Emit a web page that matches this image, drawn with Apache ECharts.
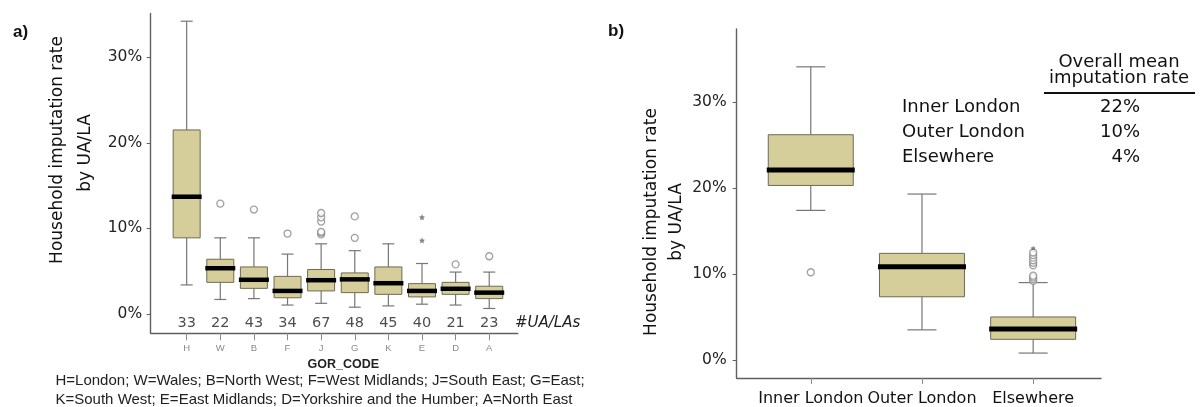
<!DOCTYPE html>
<html>
<head>
<meta charset="utf-8">
<script src="https://cdn.jsdelivr.net/npm/echarts@6/dist/echarts.min.js"></script>
<style>
  html, body { margin: 0; padding: 0; background: #fff; }
  #chart { width: 1200px; height: 407px; }
</style>
</head>
<body>
<div id="chart"></div>
<script>
// panel a: imputation rate by region (GOR_CODE)
const gorCodes = ['H', 'W', 'B', 'F', 'J', 'G', 'K', 'E', 'D', 'A']
const gorCounts = [33, 22, 43, 34, 67, 48, 45, 40, 21, 23]
// [lower whisker, Q1, median, Q3, upper whisker] in %
const gorBoxes = [
  [3.4, 8.9, 13.7, 21.5, 34.2],
  [1.7, 3.7, 5.35, 6.4, 8.9],
  [1.8, 3.0, 4.0, 5.5, 8.9],
  [1.05, 1.9, 2.7, 4.4, 7.0],
  [1.25, 2.7, 3.95, 5.2, 8.2],
  [0.8, 2.5, 4.05, 4.8, 7.4],
  [0.95, 2.3, 3.6, 5.5, 8.2],
  [1.15, 2.0, 2.7, 3.55, 5.9],
  [1.05, 2.3, 2.95, 3.7, 4.9],
  [0.65, 1.8, 2.5, 3.25, 4.9]
]
const gorOutliers = [[], [12.9], [12.2], [9.4], [9.3, 9.5, 9.6, 10.8, 11.3, 11.8], [8.9, 11.4], [], [], [5.8], [6.75]]
const gorExtremes = [[], [], [], [], [], [], [], [8.6, 11.3], [], []]

// panel b: London split
const areaNames = ['Inner London', 'Outer London', 'Elsewhere']
const areaBoxes = [
  [17.4, 20.3, 22.1, 26.2, 34.1],
  [3.5, 7.35, 10.85, 12.4, 19.3],
  [0.8, 2.4, 3.6, 5.0, 9.0]
]
const areaOutliers = [[10.2], [], [9.2, 9.4, 9.6, 9.8, 11.0, 11.3, 11.6, 11.9, 12.2, 12.5]]
const areaExtremes = [[], [], [13.0]]
const areaMeans = [22, 10, 4]

const yTicks = [0, 10, 20, 30]

const COMIC = "'Comic Sans MS', 'DejaVu Sans', sans-serif"
const ARIAL = "'Liberation Sans', Arial, sans-serif"
const BOX_FILL = '#d5ce9a'
const BOX_EDGE = '#6e6a55'
const WHISKER = '#777'
const AXIS = '#606060'
const STAR = 'path://M0,-10L2.9,-4L9.5,-3.1L4.8,1.5L5.9,8.1L0,5L-5.9,8.1L-4.8,1.5L-9.5,-3.1L-2.9,-4Z'

function boxRenderer(boxW, capW, medW) {
  return function (params, api) {
    const x = api.value(0)
    const p = [1, 2, 3, 4, 5].map((d) => api.coord([x, api.value(d)]))
    const cx = p[0][0]
    const seg = (x1, y1, x2, y2, style) => ({ type: 'line', shape: { x1, y1, x2, y2 }, style })
    const w = { stroke: WHISKER, lineWidth: 1.2 }
    return {
      type: 'group',
      children: [
        seg(cx, p[0][1], cx, p[1][1], w),
        seg(cx, p[3][1], cx, p[4][1], w),
        seg(cx - capW / 2, p[0][1], cx + capW / 2, p[0][1], w),
        seg(cx - capW / 2, p[4][1], cx + capW / 2, p[4][1], w),
        {
          type: 'rect',
          shape: { x: cx - boxW / 2, y: p[3][1], width: boxW, height: p[1][1] - p[3][1] },
          style: { fill: BOX_FILL, stroke: BOX_EDGE, lineWidth: 1 },
        },
        seg(cx - boxW / 2 - 1.5, p[2][1], cx + boxW / 2 + 1.5, p[2][1], { stroke: '#000', lineWidth: medW }),
      ],
    }
  }
}

function points(list) {
  let out = []
  list.forEach((vals, i) => vals.forEach((v) => out.push([i, v])))
  return out
}

function valueXAxis(gridIndex, min, max, names, label) {
  const idx = names.map((n, i) => i)
  return {
    gridIndex: gridIndex,
    type: 'value',
    min: min,
    max: max,
    splitLine: { show: false },
    axisLine: { show: true, onZero: false, lineStyle: { color: AXIS, width: 1.4 } },
    axisTick: { show: true, customValues: idx, length: label.tickLen, lineStyle: { color: '#8a8a8a' } },
    axisLabel: Object.assign({ customValues: idx, formatter: (v) => names[v] }, label.style),
  }
}

function percentYAxis(gridIndex, min, max, margin) {
  return {
    gridIndex: gridIndex,
    type: 'value',
    min: min,
    max: max,
    splitLine: { show: false },
    axisLine: { show: true, onZero: false, lineStyle: { color: AXIS, width: 1.4 } },
    axisTick: { show: true, customValues: yTicks, length: 4, lineStyle: { color: AXIS } },
    axisLabel: { customValues: yTicks, formatter: (v) => v + '%', fontFamily: COMIC, fontSize: 15.5, color: '#222', margin: margin },
  }
}

const myChart = echarts.init(document.getElementById('chart'))

const tableRows = []
areaNames.forEach((name, i) => {
  tableRows.push({ type: 'text', x: 902, y: 107 + i * 25, style: { text: name, font: '18px ' + COMIC, fill: '#111', textVerticalAlign: 'middle' } })
  tableRows.push({ type: 'text', x: 1140, y: 107 + i * 25, style: { text: areaMeans[i] + '%', font: '18px ' + COMIC, fill: '#111', textAlign: 'right', textVerticalAlign: 'middle' } })
})

myChart.setOption({
  animation: false,
  grid: [
    { left: 150.7, right: 682.2, top: 13.5, bottom: 73.7 },
    { left: 736.7, right: 99, top: 29, bottom: 28.7 },
  ],
  xAxis: [
    Object.assign(valueXAxis(0, -1.07, 9.85, gorCodes, {
      tickLen: 7,
      style: { fontFamily: ARIAL, fontSize: 9.5, color: '#8a8a8a', margin: 10 },
    }), {
      name: 'GOR_CODE',
      nameLocation: 'middle',
      nameGap: 25,
      nameTextStyle: { fontFamily: ARIAL, fontWeight: 'bold', fontSize: 12.5, color: '#222', padding: [0, 0, 0, 18] },
    }),
    valueXAxis(1, -0.666, 2.61, areaNames, {
      tickLen: 6,
      style: { fontFamily: COMIC, fontSize: 16, color: '#111', margin: 13 },
    }),
  ],
  yAxis: [
    percentYAxis(0, -2.25, 35.1, 8.5),
    percentYAxis(1, -2.1, 38.5, 10),
  ],
  series: [
    {
      type: 'custom',
      xAxisIndex: 0,
      yAxisIndex: 0,
      clip: false,
      renderItem: boxRenderer(27, 12, 4.5),
      encode: { x: 0, y: [1, 2, 3, 4, 5] },
      data: gorBoxes.map((b, i) => [i].concat(b)),
    },
    {
      type: 'scatter',
      xAxisIndex: 0,
      yAxisIndex: 0,
      symbol: 'circle',
      symbolSize: 7,
      itemStyle: { color: '#fff', borderColor: '#8a8a8a', borderWidth: 1.3 },
      data: points(gorOutliers),
    },
    {
      type: 'scatter',
      xAxisIndex: 0,
      yAxisIndex: 0,
      symbol: STAR,
      symbolSize: 6,
      itemStyle: { color: '#666' },
      data: points(gorExtremes),
    },
    {
      // #UA/LAs count row, sits just below 0%
      type: 'scatter',
      xAxisIndex: 0,
      yAxisIndex: 0,
      symbolSize: 1,
      itemStyle: { color: 'transparent' },
      label: { show: true, position: 'inside', formatter: (p) => p.value[2], fontFamily: COMIC, fontSize: 14.5, color: '#222' },
      data: gorCounts.map((c, i) => [i, -1.1, c]),
    },
    {
      type: 'custom',
      xAxisIndex: 1,
      yAxisIndex: 1,
      clip: false,
      renderItem: boxRenderer(85, 29, 5),
      encode: { x: 0, y: [1, 2, 3, 4, 5] },
      data: areaBoxes.map((b, i) => [i].concat(b)),
    },
    {
      type: 'scatter',
      xAxisIndex: 1,
      yAxisIndex: 1,
      symbol: 'circle',
      symbolSize: 7,
      itemStyle: { color: '#fff', borderColor: '#8a8a8a', borderWidth: 1.3 },
      data: points(areaOutliers),
    },
    {
      type: 'scatter',
      xAxisIndex: 1,
      yAxisIndex: 1,
      symbol: STAR,
      symbolSize: 5,
      itemStyle: { color: '#666' },
      data: points(areaExtremes),
    },
  ],
  graphic: [
    { type: 'text', x: 13, y: 32, style: { text: 'a)', font: 'bold 17px ' + ARIAL, fill: '#111', textVerticalAlign: 'middle' } },
    { type: 'text', x: 608, y: 31, style: { text: 'b)', font: 'bold 17px ' + ARIAL, fill: '#111', textVerticalAlign: 'middle' } },
    { type: 'text', x: 58, y: 150, rotation: Math.PI / 2, style: { text: 'Household imputation rate', font: '17px ' + COMIC, fill: '#111', textAlign: 'center', textVerticalAlign: 'middle' } },
    { type: 'text', x: 86, y: 153, rotation: Math.PI / 2, style: { text: 'by UA/LA', font: '17px ' + COMIC, fill: '#111', textAlign: 'center', textVerticalAlign: 'middle' } },
    { type: 'text', x: 652, y: 222, rotation: Math.PI / 2, style: { text: 'Household imputation rate', font: '17px ' + COMIC, fill: '#111', textAlign: 'center', textVerticalAlign: 'middle' } },
    { type: 'text', x: 677, y: 222, rotation: Math.PI / 2, style: { text: 'by UA/LA', font: '17px ' + COMIC, fill: '#111', textAlign: 'center', textVerticalAlign: 'middle' } },
    { type: 'text', x: 515, y: 323, style: { text: '#UA/LAs', font: 'italic 15px ' + COMIC, fill: '#222', textVerticalAlign: 'middle' } },
    { type: 'text', x: 55.5, y: 381, style: { text: 'H=London; W=Wales; B=North West; F=West Midlands; J=South East; G=East;', font: '15px ' + ARIAL, fill: '#222', textVerticalAlign: 'middle' } },
    { type: 'text', x: 55.5, y: 400, style: { text: 'K=South West; E=East Midlands; D=Yorkshire and the Humber; A=North East', font: '15px ' + ARIAL, fill: '#222', textVerticalAlign: 'middle' } },
    { type: 'text', x: 1119, y: 62, style: { text: 'Overall mean', font: '18px ' + COMIC, fill: '#111', textAlign: 'center', textVerticalAlign: 'middle' } },
    { type: 'text', x: 1119, y: 78, style: { text: 'imputation rate', font: '18px ' + COMIC, fill: '#111', textAlign: 'center', textVerticalAlign: 'middle' } },
    { type: 'line', shape: { x1: 1044, y1: 93, x2: 1195, y2: 93 }, style: { stroke: '#111', lineWidth: 2.2 } },
  ].concat(tableRows),
})

window.addEventListener('resize', () => {
  myChart.resize()
})
</script>
</body>
</html>
